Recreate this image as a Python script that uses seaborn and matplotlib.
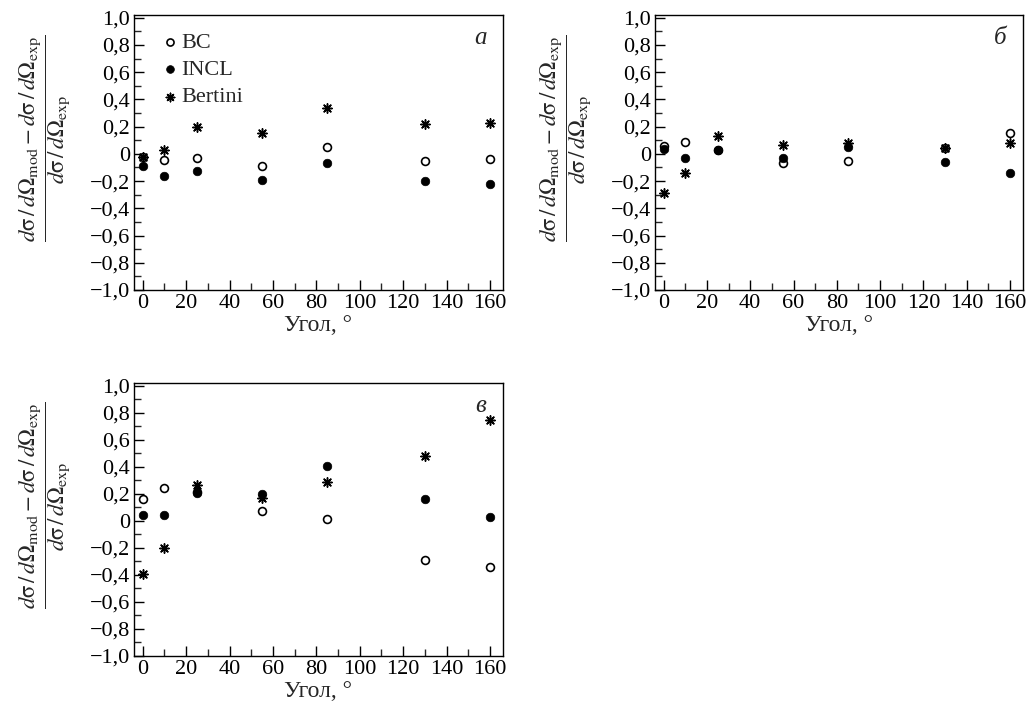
import numpy as np
import pandas as pd
import matplotlib
matplotlib.use("Agg")
import matplotlib.pyplot as plt
from matplotlib.ticker import MultipleLocator, FuncFormatter
import seaborn as sns

# ---- data ----
angles = [0, 10, 25, 55, 85, 130, 160]

a_bc      = [-0.02, -0.046, -0.027, -0.09, 0.05, -0.05, -0.04]
a_incl    = [-0.09, -0.16, -0.124, -0.19, -0.07, -0.20, -0.22]
a_bertini = [-0.02, 0.027, 0.20, 0.15, 0.34, 0.22, 0.23]

b_bc      = [0.06, 0.088, 0.03, -0.066, -0.05, 0.046, 0.15]
b_incl    = [0.034, -0.034, 0.027, -0.027, 0.05, -0.06, -0.137]
b_bertini = [-0.285, -0.144, 0.13, 0.063, 0.08, 0.046, 0.08]

c_bc      = [0.16, 0.24, 0.21, 0.076, 0.017, -0.288, -0.344]
c_incl    = [0.04, 0.04, 0.205, 0.20, 0.405, 0.16, 0.027]
c_bertini = [-0.39, -0.20, 0.265, 0.168, 0.29, 0.478, 0.746]

models = ["BC", "INCL", "Bertini"]
panel_labels = ["а", "б", "в"]
x_ticks = [0, 20, 40, 60, 80, 100, 120, 140, 160]
y_ticks = [-1.0, -0.8, -0.6, -0.4, -0.2, 0.0, 0.2, 0.4, 0.6, 0.8, 1.0]

sns.set_theme(style="ticks")
plt.rcParams["font.family"] = ["Liberation Serif", "DejaVu Serif"]
plt.rcParams["mathtext.fontset"] = "stix"
plt.rcParams["axes.unicode_minus"] = True

fig = plt.figure(figsize=(10.32, 7.15), dpi=100)
W, H = 1032, 715
def rect(l, r, t, b):
    return [l / W, 1 - b / H, (r - l) / W, (b - t) / H]

axes = [fig.add_axes(rect(134, 503, 15, 290)),
        fig.add_axes(rect(655, 1023, 15, 290)),
        fig.add_axes(rect(134, 503, 383, 656))]

panels = [(a_bc, a_incl, a_bertini), (b_bc, b_incl, b_bertini), (c_bc, c_incl, c_bertini)]

def fmt(v, pos):
    if abs(v) < 1e-9:
        return "0"
    s = f"{v:.1f}".replace(".", ",")
    return s.replace("-", "\u2212")

ylabel = (r"$\dfrac{d\mathrm{\sigma}\,/\,d\mathit{\Omega}_{\mathrm{mod}}-d\mathrm{\sigma}\,/\,d\mathit{\Omega}_{\mathrm{exp}}}"
          r"{d\mathrm{\sigma}\,/\,d\mathit{\Omega}_{\mathrm{exp}}}$")

star = (8, 2, 0)
for i, (ax, (bc, incl, bert)) in enumerate(zip(axes, panels)):
    df = pd.DataFrame({
        "angle": angles * 3,
        "value": list(bc) + list(incl) + list(bert),
        "model": ["BC"] * 7 + ["INCL"] * 7 + ["Bertini"] * 7,
    })
    sub = df[df.model == "BC"]
    sns.scatterplot(data=sub, x="angle", y="value", ax=ax, marker="o", s=32,
                    facecolor="white", edgecolor="black", linewidth=1.2, label="BC", zorder=3)
    sub = df[df.model == "INCL"]
    sns.scatterplot(data=sub, x="angle", y="value", ax=ax, marker="o", s=38,
                    color="black", edgecolor="black", linewidth=0.5, label="INCL", zorder=4)
    sub = df[df.model == "Bertini"]
    sns.scatterplot(data=sub, x="angle", y="value", ax=ax, marker=star, s=45,
                    color="black", edgecolor="black", linewidth=1.1, label="Bertini", zorder=5)

    ax.set_xlim(-4, 166)
    ax.set_ylim(-1.0, 1.02)
    ax.set_xticks(x_ticks)
    ax.set_yticks(y_ticks)
    ax.xaxis.set_minor_locator(MultipleLocator(10))
    ax.yaxis.set_minor_locator(MultipleLocator(0.1))
    ax.yaxis.set_major_formatter(FuncFormatter(fmt))
    ax.tick_params(axis="both", which="major", direction="in", length=7, width=1,
                   labelsize=16, top=False, right=False, pad=3, colors="black")
    ax.tick_params(axis="both", which="minor", direction="in", length=5, width=1,
                   top=False, right=False)
    for sp in ax.spines.values():
        sp.set_visible(True)
        sp.set_linewidth(1.0)
        sp.set_color("black")
    ax.set_xlabel("Угол, °", fontsize=17, labelpad=1)
    ax.set_ylabel(ylabel, fontsize=16.5)
    ax.yaxis.set_label_coords(-0.165, 0.55)
    ax.text(0.955, 0.955, panel_labels[i], transform=ax.transAxes, ha="right", va="top",
            fontsize=18, style="italic")
    if i == 0:
        leg = ax.legend(loc="upper left", bbox_to_anchor=(0.025, 0.985), frameon=False,
                        fontsize=16, handletextpad=-0.1, borderaxespad=0.2,
                        labelspacing=0.3, handlelength=1.2, markerscale=0.9)
    else:
        ax.get_legend().remove()

fig.savefig("out.png", dpi=100)
